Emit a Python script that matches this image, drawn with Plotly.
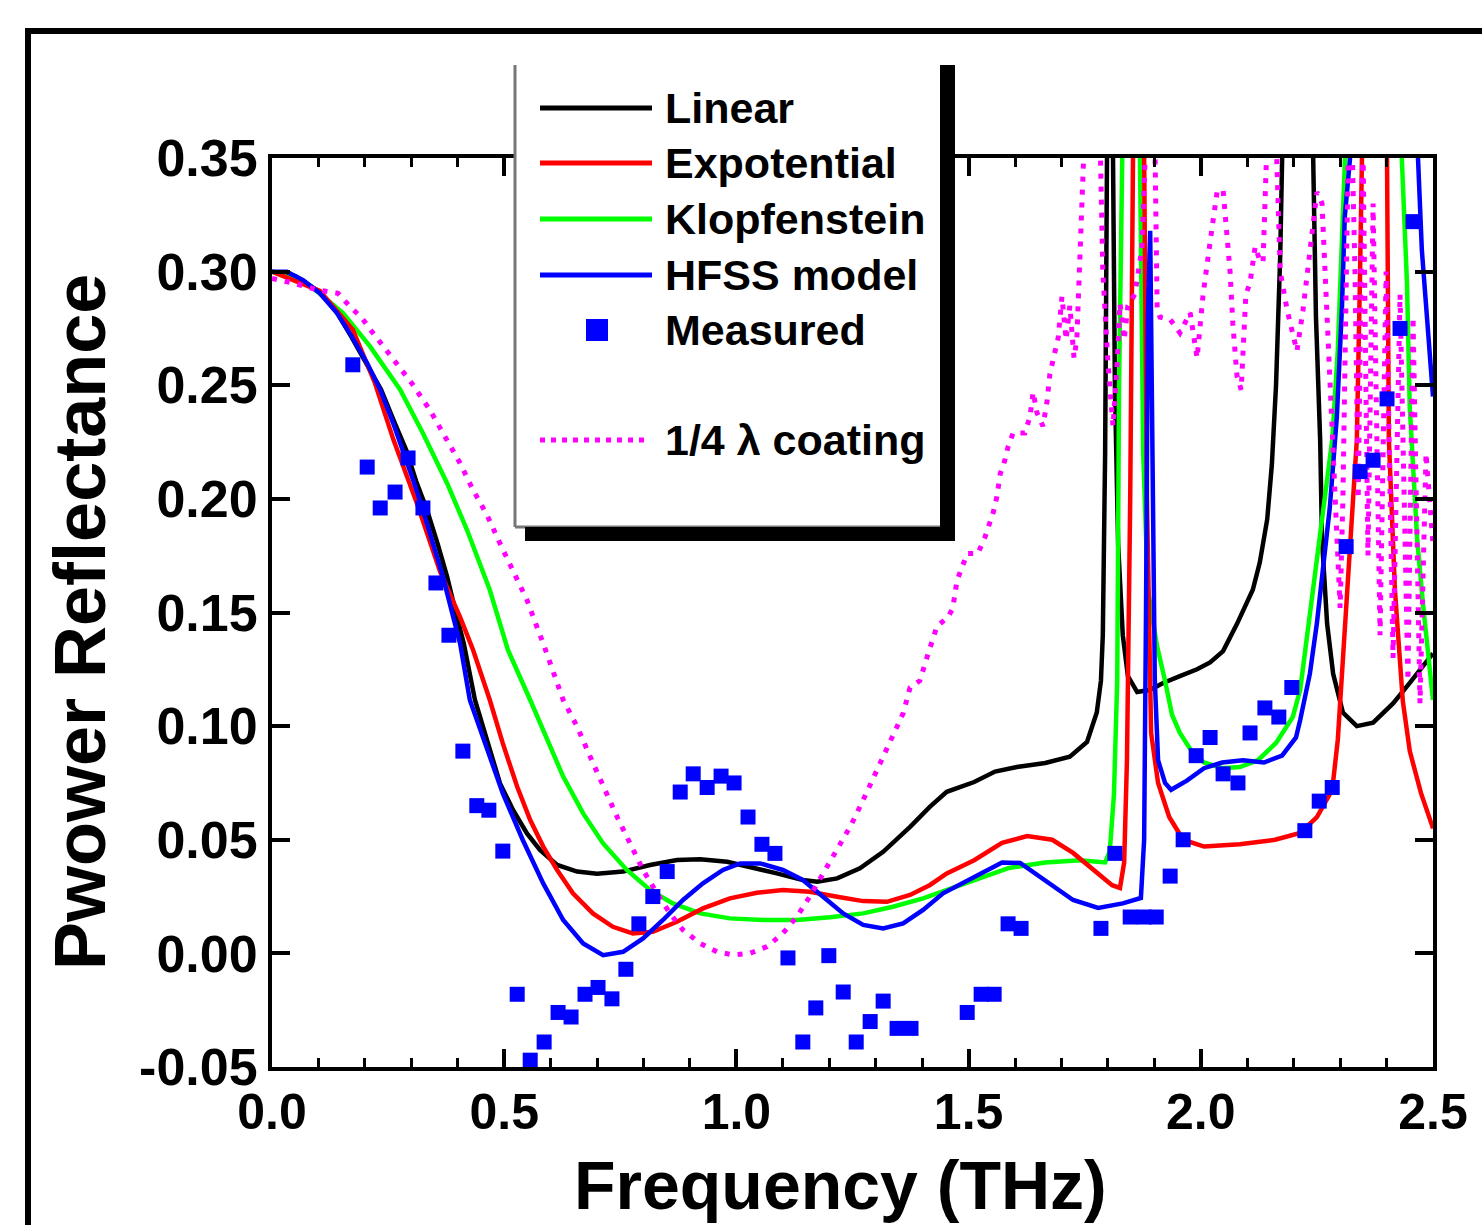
import plotly.graph_objects as go

# ---------------- data (frequency THz, power reflectance) ----------------
linear = [(0.000,0.300),(0.050,0.298),(0.103,0.291),(0.140,0.282),(0.172,0.271),(0.205,0.259),
          (0.235,0.248),(0.265,0.233),(0.289,0.2215),(0.310,0.208),(0.334,0.195),(0.357,0.180),
          (0.377,0.1658),(0.398,0.1482),(0.413,0.1364),(0.437,0.1115),(0.463,0.0939),(0.491,0.0748),
          (0.519,0.0631),(0.549,0.0528),(0.577,0.0455),(0.614,0.0389),(0.657,0.036),(0.700,0.035),
          (0.756,0.036),(0.814,0.0389),(0.872,0.0411),(0.922,0.0414),(0.980,0.0403),(1.029,0.0381),
          (1.087,0.0352),(1.143,0.0323),(1.174,0.0315),(1.217,0.033),(1.266,0.0374),(1.316,0.0447),
          (1.374,0.0557),(1.417,0.0646),(1.453,0.0711),(1.512,0.0754),(1.557,0.080),(1.604,0.082),
          (1.665,0.0838),(1.718,0.0865),(1.755,0.093),(1.776,0.106),(1.785,0.12),(1.789,0.14),
          (1.794,0.22),(1.798,0.35),(1.804,0.6),(1.811,0.35),(1.815,0.25),(1.822,0.18),(1.832,0.14),
          (1.843,0.122),(1.863,0.115),(1.891,0.116),(1.919,0.119),(1.955,0.122),(1.992,0.125),
          (2.020,0.128),(2.048,0.133),(2.078,0.145),(2.095,0.152),(2.112,0.160),(2.127,0.172),
          (2.143,0.191),(2.153,0.215),(2.162,0.25),(2.171,0.307),(2.177,0.35),(2.209,0.7),
          (2.242,0.35),(2.248,0.28),(2.257,0.226),(2.261,0.182),(2.272,0.145),(2.285,0.123),
          (2.306,0.106),(2.336,0.100),(2.371,0.1015),(2.414,0.110),(2.450,0.119),(2.472,0.125),
          (2.500,0.132)]

expotential = [(0.000,0.300),(0.103,0.2915),(0.174,0.2745),(0.222,0.2508),(0.261,0.2263),(0.312,0.1981),
               (0.362,0.168),(0.405,0.148),(0.433,0.1335),(0.469,0.1115),(0.497,0.0924),(0.528,0.0733),
               (0.556,0.0587),(0.584,0.047),(0.614,0.0367),(0.648,0.0264),(0.691,0.0176),(0.734,0.0117),
               (0.777,0.0088),(0.820,0.0095),(0.872,0.0139),(0.928,0.0198),(0.986,0.0242),(1.044,0.0267),
               (1.100,0.0279),(1.158,0.0271),(1.217,0.0249),(1.273,0.023),(1.324,0.0227),(1.374,0.0257),
               (1.417,0.0301),(1.453,0.0352),(1.512,0.041),(1.572,0.0486),(1.626,0.0516),(1.680,0.050),
               (1.725,0.0442),(1.770,0.0367),(1.809,0.030),(1.826,0.0288),(1.835,0.04),(1.841,0.085),
               (1.848,0.2),(1.854,0.35),(1.865,0.6),(1.876,0.4),(1.884,0.2),(1.893,0.097),(1.908,0.075),
               (1.932,0.060),(1.962,0.050),(2.007,0.047),(2.084,0.048),(2.160,0.050),(2.214,0.053),
               (2.250,0.060),(2.283,0.072),(2.295,0.094),(2.310,0.14),(2.326,0.19),(2.336,0.226),
               (2.343,0.30),(2.347,0.35),(2.375,0.7),(2.401,0.35),(2.405,0.226),(2.418,0.16),
               (2.435,0.111),(2.450,0.089),(2.474,0.0706),(2.500,0.055)]

klopfenstein = [(0.000,0.300),(0.082,0.2939),(0.153,0.2818),(0.211,0.2671),(0.276,0.248),(0.325,0.2289),
                (0.377,0.2069),(0.420,0.1863),(0.469,0.1599),(0.508,0.1335),(0.556,0.1115),(0.592,0.0939),
                (0.627,0.0778),(0.670,0.0616),(0.713,0.0484),(0.764,0.0367),(0.814,0.0279),(0.863,0.022),
                (0.922,0.0176),(0.986,0.0154),(1.057,0.0147),(1.130,0.0147),(1.202,0.0159),(1.273,0.0176),
                (1.337,0.0205),(1.402,0.0242),(1.453,0.0279),(1.512,0.032),(1.587,0.0376),(1.665,0.040),
                (1.740,0.041),(1.794,0.040),(1.804,0.045),(1.813,0.07),(1.820,0.12),(1.824,0.25),
                (1.828,0.35),(1.848,0.6),(1.869,0.35),(1.876,0.22),(1.886,0.16),(1.906,0.135),
                (1.923,0.12),(1.938,0.105),(1.955,0.097),(1.977,0.09),(2.007,0.084),(2.046,0.0815),
                (2.084,0.082),(2.123,0.085),(2.162,0.0926),(2.198,0.104),(2.214,0.116),(2.242,0.16),
                (2.263,0.1966),(2.283,0.226),(2.295,0.2655),(2.304,0.3095),(2.310,0.349),(2.375,0.7),
                (2.433,0.349),(2.444,0.295),(2.450,0.24),(2.466,0.182),(2.479,0.1526),(2.500,0.1115)]

hfss = [(0.000,0.300),(0.032,0.300),(0.067,0.2963),(0.103,0.2905),(0.140,0.2818),(0.172,0.2714),
        (0.205,0.2597),(0.233,0.248),(0.261,0.2333),(0.282,0.2215),(0.304,0.2083),(0.325,0.1951),
        (0.347,0.1804),(0.368,0.1658),(0.390,0.1482),(0.405,0.1364),(0.426,0.1115),(0.463,0.0895),
        (0.497,0.0704),(0.540,0.0499),(0.584,0.0308),(0.627,0.0147),(0.670,0.0044),(0.713,-0.0008),
        (0.756,0.0007),(0.799,0.0066),(0.842,0.0147),(0.885,0.0235),(0.928,0.0308),(0.971,0.0367),
        (1.008,0.0396),(1.051,0.0396),(1.100,0.0367),(1.143,0.0323),(1.186,0.0249),(1.230,0.0176),
        (1.273,0.0125),(1.316,0.011),(1.359,0.0132),(1.402,0.0191),(1.445,0.0264),(1.512,0.0336),
        (1.572,0.040),(1.611,0.0398),(1.665,0.032),(1.725,0.0235),(1.779,0.020),(1.832,0.022),
        (1.871,0.0244),(1.878,0.05),(1.882,0.15),(1.886,0.28),(1.891,0.318),(1.895,0.25),
        (1.901,0.12),(1.908,0.085),(1.923,0.075),(1.936,0.072),(1.970,0.076),(2.007,0.0815),
        (2.046,0.084),(2.091,0.085),(2.136,0.084),(2.175,0.087),(2.205,0.095),(2.214,0.1027),
        (2.235,0.1232),(2.250,0.1453),(2.263,0.1673),(2.278,0.1966),(2.293,0.2362),(2.304,0.2846),
        (2.310,0.324),(2.321,0.349),(2.396,0.7),(2.466,0.349),(2.476,0.3095),(2.487,0.28),
        (2.500,0.245)]

quarter_wave = [(0.000,0.297),(0.045,0.295),(0.097,0.292),(0.142,0.2905),(0.168,0.2846),(0.194,0.2795),
                (0.215,0.2736),(0.237,0.2677),(0.261,0.2619),(0.282,0.256),(0.301,0.2509),(0.340,0.2391),
                (0.373,0.2274),(0.405,0.2157),(0.433,0.2039),(0.463,0.1929),(0.491,0.1804),(0.519,0.168),
                (0.549,0.1555),(0.573,0.1423),(0.584,0.1364),(0.627,0.1115),(0.657,0.0998),(0.685,0.0866),
                (0.713,0.0733),(0.743,0.0601),(0.771,0.0484),(0.799,0.0367),(0.829,0.0264),(0.857,0.0176),
                (0.885,0.0103),(0.922,0.0044),(0.958,0.0007),(0.993,-0.0007),(1.029,0.0),(1.066,0.003),
                (1.100,0.0088),(1.130,0.0161),(1.158,0.025),(1.186,0.0352),(1.217,0.0455),(1.245,0.0557),
                (1.273,0.0675),(1.303,0.0807),(1.331,0.0924),(1.359,0.1056),(1.374,0.117),(1.395,0.120),
                (1.413,0.132),(1.432,0.144),(1.456,0.148),(1.466,0.152),(1.475,0.164),(1.497,0.176),
                (1.520,0.176),(1.535,0.183),(1.553,0.194),(1.561,0.201),(1.568,0.211),(1.578,0.217),
                (1.585,0.223),(1.596,0.229),(1.621,0.229),(1.632,0.236),(1.639,0.247),(1.647,0.238),
                (1.660,0.232),(1.669,0.243),(1.675,0.255),(1.680,0.26),(1.693,0.271),(1.701,0.289),
                (1.710,0.270),(1.718,0.285),(1.727,0.262),(1.733,0.27),(1.740,0.31),(1.746,0.36),
                (1.766,0.45),(1.783,0.36),(1.789,0.30),(1.800,0.26),(1.811,0.232),(1.820,0.26),
                (1.826,0.286),(1.835,0.27),(1.843,0.285),(1.858,0.29),(1.873,0.31),(1.882,0.36),
                (1.893,0.45),(1.901,0.36),(1.906,0.284),(1.912,0.28),(1.934,0.279),(1.955,0.273),
                (1.977,0.282),(1.992,0.262),(2.005,0.29),(2.020,0.313),(2.035,0.335),(2.048,0.336),
                (2.056,0.317),(2.063,0.30),(2.069,0.277),(2.078,0.254),(2.087,0.248),(2.097,0.29),
                (2.106,0.295),(2.117,0.311),(2.127,0.305),(2.134,0.304),(2.143,0.36),(2.153,0.45),
                (2.162,0.36),(2.171,0.30),(2.186,0.283),(2.207,0.265),(2.220,0.283),(2.235,0.31),
                (2.250,0.335),(2.261,0.33),(2.272,0.28),(2.278,0.251),(2.285,0.221),(2.293,0.18),
                (2.300,0.152),(2.306,0.2),(2.313,0.3),(2.321,0.40),(2.332,0.30),(2.339,0.20),
                (2.349,0.36),(2.360,0.175),(2.371,0.33),(2.386,0.14),(2.399,0.30),(2.414,0.13),
                (2.429,0.29),(2.446,0.12),(2.457,0.28),(2.472,0.11),(2.485,0.22),(2.500,0.18)]

measured_f = [0.174,0.205,0.233,0.265,0.293,0.325,0.353,0.381,0.411,0.441,0.467,0.497,
              0.528,0.556,0.586,0.616,0.644,0.674,0.702,0.732,0.762,0.790,0.820,0.851,
              0.879,0.907,0.937,0.967,0.995,1.025,1.055,1.083,1.111,1.143,1.171,1.199,
              1.230,1.258,1.288,1.316,1.346,1.376,1.497,1.527,1.555,1.585,1.613,1.785,
              1.815,1.848,1.878,1.904,1.934,1.962,1.990,2.020,2.048,2.080,2.106,2.138,
              2.168,2.196,2.224,2.255,2.283,2.313,2.343,2.371,2.401,2.429,2.457]
measured_r = [0.259,0.214,0.196,0.203,0.218,0.196,0.163,0.140,0.089,0.065,0.063,0.045,
              -0.018,-0.047,-0.039,-0.026,-0.028,-0.018,-0.015,-0.020,-0.007,0.013,0.025,0.036,
              0.071,0.079,0.073,0.078,0.075,0.060,0.048,0.044,-0.002,-0.039,-0.024,-0.001,
              -0.017,-0.039,-0.030,-0.021,-0.033,-0.033,-0.026,-0.018,-0.018,0.013,0.011,0.011,
              0.044,0.016,0.016,0.016,0.034,0.050,0.087,0.095,0.079,0.075,0.097,0.108,
              0.104,0.117,0.054,0.067,0.073,0.179,0.212,0.217,0.244,0.275,0.322]

x_ticks = [0.0, 0.5, 1.0, 1.5, 2.0, 2.5]
y_ticks = [-0.05, 0.00, 0.05, 0.10, 0.15, 0.20, 0.25, 0.30, 0.35]
legend_names = ["Linear", "Expotential", "Klopfenstein", "HFSS model", "Measured", "1/4 λ coating"]

# ---------------- figure ----------------
W, H = 1482, 1225
L, R, T, B = 272, 49, 158, 158
PW, PH = W - L - R, H - T - B

def px2x(px):
    return (px - L) / PW

def py2y(py):
    return (H - B - py) / PH

FONT = "Liberation Sans"
fig = go.Figure()

def add_line(data, color, dash=None, width=4.5):
    xs = [p[0] for p in data]
    ys = [p[1] for p in data]
    fig.add_trace(go.Scatter(x=xs, y=ys, mode="lines",
                             line=dict(color=color, width=width, dash=dash),
                             showlegend=False, hoverinfo="skip"))

add_line(linear, "#000000")
add_line(klopfenstein, "#00ff00")
add_line(expotential, "#ff0000")
add_line(hfss, "#0000ff")
add_line(quarter_wave, "#ff00ff", dash="5px,8px", width=5)

fig.add_trace(go.Scatter(x=measured_f, y=measured_r, mode="markers",
                         marker=dict(symbol="square", size=15, color="#0000ff"),
                         cliponaxis=False, showlegend=False, hoverinfo="skip"))

axis_common = dict(
    showline=True, linewidth=4, linecolor="black", mirror="ticks",
    ticks="inside", ticklen=18, tickwidth=4, tickcolor="black",
    showgrid=False, zeroline=False,
)
fig.update_xaxes(range=[0, 2.5], tickvals=x_ticks, ticktext=[f"{v:.1f}" for v in x_ticks],
                 minor=dict(dtick=0.1, ticks="inside", ticklen=9, tickwidth=3, tickcolor="black"),
                 ticklabelstandoff=-2,
                 tickfont=dict(family=FONT, size=50, color="black", weight="bold"),
                 **axis_common)
fig.update_yaxes(range=[-0.05, 0.35], tickvals=y_ticks, ticktext=[f"{v:.2f}" for v in y_ticks],
                 ticklabelstandoff=0,
                 tickfont=dict(family=FONT, size=52, color="black", weight="bold"),
                 **axis_common)

shapes = []
# outer frame
shapes.append(dict(type="rect", xref="paper", yref="paper",
                   x0=px2x(28), x1=px2x(1530), y0=py2y(31), y1=py2y(1280),
                   line=dict(color="black", width=6), fillcolor="rgba(0,0,0,0)", layer="above"))
# legend box
shapes.append(dict(type="rect", xref="paper", yref="paper",
                   x0=px2x(515), x1=px2x(942), y0=py2y(62), y1=py2y(527),
                   line=dict(width=0), fillcolor="white", layer="above"))
shapes.append(dict(type="line", xref="paper", yref="paper",
                   x0=px2x(515), x1=px2x(515), y0=py2y(65), y1=py2y(527),
                   line=dict(color="#777777", width=3), layer="above"))
shapes.append(dict(type="line", xref="paper", yref="paper",
                   x0=px2x(515), x1=px2x(942), y0=py2y(527), y1=py2y(527),
                   line=dict(color="#777777", width=3), layer="above"))
shapes.append(dict(type="rect", xref="paper", yref="paper",
                   x0=px2x(940), x1=px2x(955), y0=py2y(65), y1=py2y(541),
                   line=dict(width=0), fillcolor="black", layer="above"))
shapes.append(dict(type="rect", xref="paper", yref="paper",
                   x0=px2x(525), x1=px2x(955), y0=py2y(527), y1=py2y(541),
                   line=dict(width=0), fillcolor="black", layer="above"))

legend_y = [108, 163, 219, 275, 330, 440]
legend_colors = ["#000000", "#ff0000", "#00ff00", "#0000ff"]
for yy, col in zip(legend_y[:4], legend_colors):
    shapes.append(dict(type="line", xref="paper", yref="paper",
                       x0=px2x(540), x1=px2x(652), y0=py2y(yy), y1=py2y(yy),
                       line=dict(color=col, width=5), layer="above"))
shapes.append(dict(type="rect", xref="paper", yref="paper",
                   x0=px2x(586), x1=px2x(608), y0=py2y(319), y1=py2y(341),
                   line=dict(width=0), fillcolor="#0000ff", layer="above"))
shapes.append(dict(type="line", xref="paper", yref="paper",
                   x0=px2x(540), x1=px2x(648), y0=py2y(440), y1=py2y(440),
                   line=dict(color="#ff00ff", width=5, dash="5px,6px"), layer="above"))

annotations = []
for yy, name in zip(legend_y, legend_names):
    annotations.append(dict(xref="paper", yref="paper", x=px2x(663), y=py2y(yy),
                            xanchor="left", yanchor="middle", showarrow=False, text=name,
                            font=dict(family=FONT, size=43, color="black", weight="bold")))
annotations.append(dict(xref="paper", yref="paper", x=px2x(840), y=py2y(1185),
                        xanchor="center", yanchor="middle", showarrow=False,
                        text="Frequency (THz)",
                        font=dict(family=FONT, size=68, color="black", weight="bold")))
annotations.append(dict(xref="paper", yref="paper", x=px2x(80), y=py2y(622),
                        xanchor="center", yanchor="middle", showarrow=False, textangle=-90,
                        text="Pwower Reflectance",
                        font=dict(family=FONT, size=72, color="black", weight="bold")))

fig.update_layout(width=W, height=H, margin=dict(l=L, r=R, t=T, b=B, autoexpand=False),
                  paper_bgcolor="white", plot_bgcolor="white",
                  shapes=shapes, annotations=annotations, showlegend=False)

fig.write_html("out.html", config={"displayModeBar": False},
               post_script="document.body.style.margin='0px';")
